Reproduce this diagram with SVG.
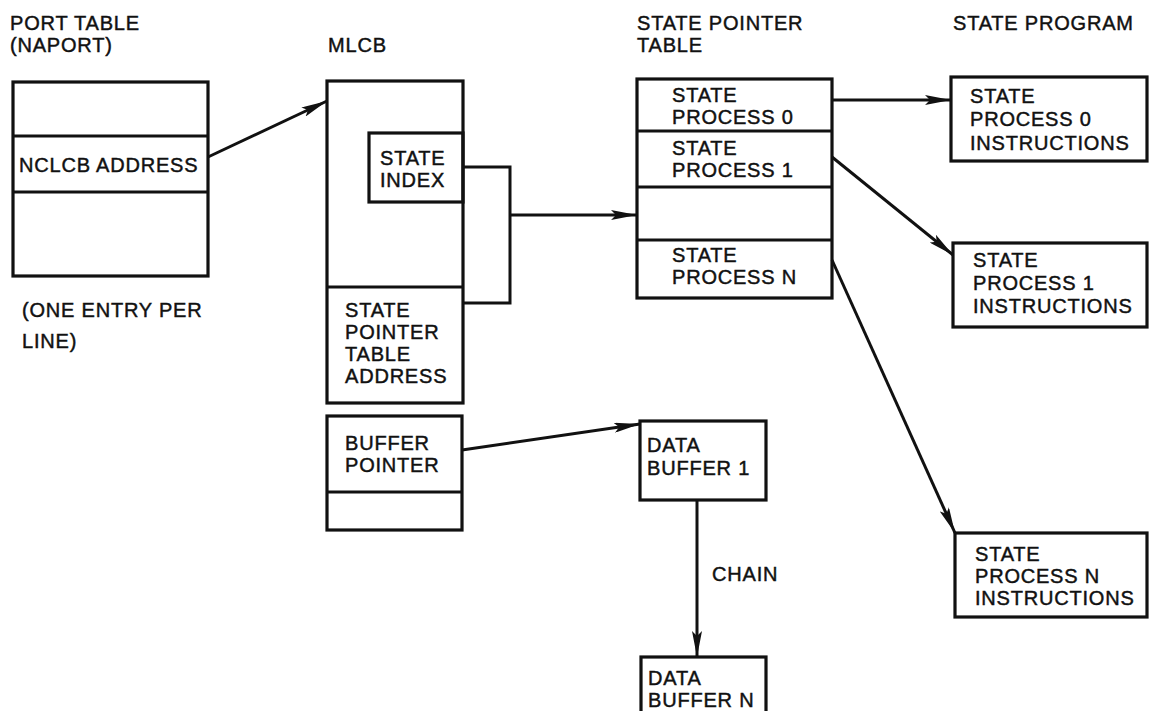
<svg xmlns="http://www.w3.org/2000/svg" width="1151" height="711" viewBox="0 0 1151 711">
<style>
text{font-family:"Liberation Sans",Arial,sans-serif;font-size:20px;fill:#111;stroke:#111;stroke-width:0.45;letter-spacing:0.8px}
.box{fill:none;stroke:#111;stroke-width:3.2}
.ln{fill:none;stroke:#111;stroke-width:3.2}
.con{fill:none;stroke:#111;stroke-width:3}
</style>
<defs>
<marker id="ah" viewBox="0 0 26 10" refX="26" refY="5" markerWidth="26" markerHeight="10" markerUnits="userSpaceOnUse" orient="auto">
<path d="M0,0 L26,5 L0,10 L5,5 Z" fill="#111"/>
</marker>
</defs>
<g id="labels">
<text x="10" y="30">PORT TABLE</text>
<text x="10" y="52">(NAPORT)</text>
<text x="328" y="52">MLCB</text>
<text x="637" y="30">STATE POINTER</text>
<text x="637" y="52">TABLE</text>
<text x="953" y="30">STATE PROGRAM</text>
<text x="22" y="317">(ONE ENTRY PER</text>
<text x="22" y="348">LINE)</text>
</g>
<g id="port-table">
<rect class="box" x="13" y="82" width="195" height="194"/>
<line class="ln" x1="13" y1="136" x2="208" y2="136"/>
<line class="ln" x1="13" y1="192" x2="208" y2="192"/>
<text x="19" y="172">NCLCB ADDRESS</text>
</g>
<g id="mlcb">
<rect class="box" x="327" y="81" width="136" height="322"/>
<line class="ln" x1="327" y1="287" x2="463" y2="287"/>
<text x="345" y="317">STATE</text>
<text x="345" y="339">POINTER</text>
<text x="345" y="361">TABLE</text>
<text x="345" y="383">ADDRESS</text>
</g>
<g id="state-index">
<rect class="box" x="369" y="133" width="94" height="69"/>
<text x="380" y="165">STATE</text>
<text x="380" y="187">INDEX</text>
</g>
<g id="buffer-pointer">
<rect class="box" x="327" y="416" width="135" height="114"/>
<line class="ln" x1="327" y1="492" x2="462" y2="492"/>
<text x="345" y="450">BUFFER</text>
<text x="345" y="472">POINTER</text>
</g>
<g id="state-pointer-table">
<rect class="box" x="637" y="79" width="195" height="219"/>
<line class="ln" x1="637" y1="131" x2="832" y2="131"/>
<line class="ln" x1="637" y1="187" x2="832" y2="187"/>
<line class="ln" x1="637" y1="240" x2="832" y2="240"/>
<text x="672" y="102">STATE</text>
<text x="672" y="124">PROCESS 0</text>
<text x="672" y="155">STATE</text>
<text x="672" y="177">PROCESS 1</text>
<text x="672" y="262">STATE</text>
<text x="672" y="284">PROCESS N</text>
</g>
<g id="state-process-0">
<rect class="box" x="951" y="77" width="196" height="84"/>
<text x="970" y="103">STATE</text>
<text x="970" y="126">PROCESS 0</text>
<text x="970" y="150">INSTRUCTIONS</text>
</g>
<g id="state-process-1">
<rect class="box" x="953" y="243" width="194" height="84"/>
<text x="973" y="267">STATE</text>
<text x="973" y="290">PROCESS 1</text>
<text x="973" y="313">INSTRUCTIONS</text>
</g>
<g id="state-process-n">
<rect class="box" x="955" y="533" width="192" height="84"/>
<text x="975" y="561">STATE</text>
<text x="975" y="583">PROCESS N</text>
<text x="975" y="605">INSTRUCTIONS</text>
</g>
<g id="data-buffer-1">
<rect class="box" x="640" y="421" width="126" height="79"/>
<text x="647" y="452">DATA</text>
<text x="647" y="475">BUFFER 1</text>
</g>
<g id="data-buffer-n">
<rect class="box" x="641" y="657" width="125" height="60"/>
<text x="648" y="685">DATA</text>
<text x="648" y="707">BUFFER N</text>
</g>
<text x="712" y="581">CHAIN</text>
<g id="connectors">
<path class="con" d="M208,157 L327,101" marker-end="url(#ah)"/>
<path class="con" d="M463,167 L510,167 L510,303 L463,303"/>
<path class="con" d="M510,215 L637,215" marker-end="url(#ah)"/>
<path class="con" d="M832,100 L951,100" marker-end="url(#ah)"/>
<path class="con" d="M832,157 L953,255" marker-end="url(#ah)"/>
<path class="con" d="M832,260 L955,533" marker-end="url(#ah)"/>
<path class="con" d="M462,450 L640,424" marker-end="url(#ah)"/>
<path class="con" d="M697,500 L697,657" marker-end="url(#ah)"/>
</g>
</svg>
